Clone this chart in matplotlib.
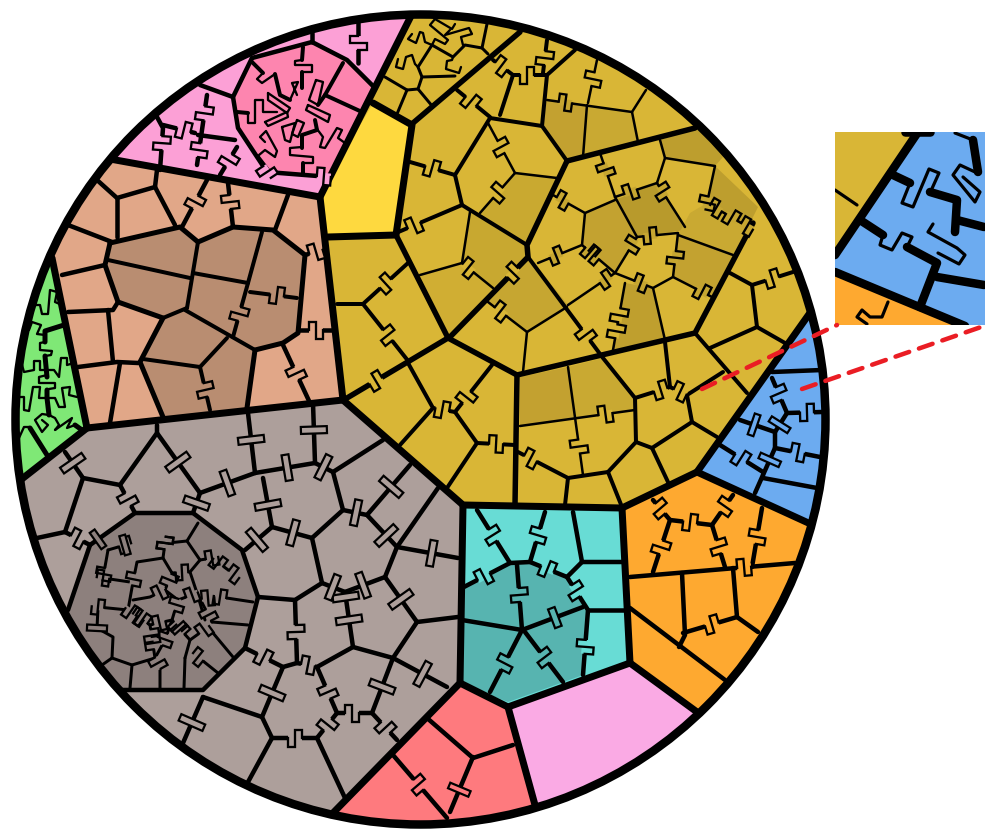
import numpy as np
import matplotlib
matplotlib.use("Agg")
import matplotlib.pyplot as plt
from matplotlib.patches import Circle, Polygon, Rectangle

GOLD = "#d9b636"
YELLOW = "#fed93f"
BROWN = "#e1a788"
BROWN_DARK = "#b98d71"
PINK = "#fca0d6"
PINK_DARK = "#fd85af"
GREEN = "#7fe876"
GREY = "#ad9f9b"
GREY_DARK = "#8d807d"
TEAL = "#68dcd5"
TEAL_DARK = "#57b4b0"
ORANGE = "#fea930"
BLUE = "#6cabf0"
PALE = "#faaae4"
RED = "#fe7a7e"

CENTER = (420.5, 419.5)
RADIUS = 405

# top level cells, outer corners run past the circle and get clipped
REGIONS = [
    (GOLD, [(410, 0), (560, 0), (900, 100), (900, 300), (697, 472), (622, 507), (463, 505), (345, 400), (320, 197), (330, 177)]),
    (BLUE, [(697, 472), (812, 305), (860, 300), (860, 550), (812, 525)]),
    (ORANGE, [(622, 507), (697, 472), (812, 525), (840, 540), (720, 730), (697, 712), (630, 663)]),
    (PALE, [(630, 663), (697, 712), (720, 730), (540, 850), (535, 805), (508, 707)]),
    (TEAL, [(460, 505), (623, 508), (630, 663), (508, 707), (460, 683)]),
    (RED, [(460, 683), (508, 707), (535, 805), (540, 850), (300, 850), (333, 813)]),
    (GREY, [(88, 429), (347, 401), (462, 505), (460, 683), (333, 813), (300, 850), (0, 850), (0, 500), (22, 480)]),
    (GREEN, [(52, 258), (87, 428), (22, 480), (0, 490), (0, 300)]),
    (BROWN, [(110, 159), (320, 197), (345, 400), (87, 428), (52, 258), (0, 220), (50, 130)]),
    (PINK, [(110, 159), (320, 197), (330, 177), (410, 16), (420, -10), (150, 40), (80, 130)]),
    (YELLOW, [(373, 103), (412, 125), (396, 235), (328, 237), (323, 197), (330, 177)]),
]

SHADES = [
    ("#c3a130", [(520, 377), (568, 367), (575, 418), (520, 426)]),
    ("#c9a932", [(568, 367), (603, 358), (635, 398), (635, 410), (575, 418)]),
    ("#c8a830", [(470, 212), (527, 245), (528, 257), (493, 288), (462, 263)]),
    ("#d0ae33", [(420, 275), (462, 263), (493, 288), (448, 338)]),
    ("#c9a930", [(515, 173), (557, 178), (527, 245), (480, 213)]),
    ("#c3a130", [(547, 100), (587, 105), (583, 157), (567, 161), (542, 126)]),
    ("#c9a932", [(587, 105), (632, 112), (638, 142), (583, 157)]),
    ("#bd9e2e", [(660, 140), (697, 128), (723, 157), (715, 166), (665, 158)]),
    ("#bd9e2e", [(715, 166), (758, 207), (748, 227), (707, 203)]),
    ("#b89a2c", [(615, 200), (657, 183), (685, 230), (637, 237)]),
    ("#c3a230", [(585, 213), (615, 200), (637, 237), (615, 273), (582, 245)]),
    ("#c3a230", [(678, 235), (733, 255), (712, 297), (673, 277)]),
    ("#bf9f2e", [(625, 283), (653, 288), (665, 340), (613, 350)]),
    ("#c9a932", [(690, 213), (707, 203), (748, 227), (733, 255), (678, 235)]),
    ("#c6a631", [(530, 258), (568, 305), (527, 332), (488, 302)]),
    (BROWN_DARK, [(110, 243), (180, 227), (198, 242), (233, 227), (273, 230), (305, 255), (298, 333), (283, 343), (255, 350), (247, 408), (163, 417), (140, 362), (163, 318), (118, 302), (105, 265)]),
    (PINK_DARK, [(252, 58), (312, 42), (347, 60), (375, 88), (330, 177), (267, 172), (238, 128), (233, 97)]),
    (TEAL_DARK, [(510, 563), (530, 562), (567, 577), (588, 610), (583, 675), (508, 702), (460, 683), (462, 588)]),
    (GREY_DARK, [(90, 545), (135, 513), (193, 513), (242, 550), (258, 597), (245, 648), (203, 690), (127, 690), (90, 690), (50, 640), (68, 610)]),
]

TOP_LINES = [
    [(412, 14), (330, 177), (320, 197), (343, 400), (463, 505), (622, 508), (697, 472), (812, 310)],
    [(110, 159), (320, 197)],
    [(52, 258), (87, 428), (343, 400)],
    [(87, 428), (18, 482)],
    [(463, 505), (460, 683), (333, 813)],
    [(460, 683), (508, 707), (535, 805)],
    [(508, 707), (630, 663), (697, 712)],
    [(622, 508), (630, 663)],
    [(697, 472), (815, 526)],
    [(373, 103), (412, 125), (396, 235), (328, 237)],
]

GOLD_THICK = [
    [(413, 123), (520, 32)],
    [(396, 235), (448, 338), (517, 375), (695, 333), (753, 223)],
    [(448, 338), (347, 398)],
    [(517, 375), (515, 505)],
    [(567, 161), (695, 128)],
    [(567, 161), (527, 245), (528, 257), (450, 337)],
]
GOLD_MID = [
    [(396, 233), (462, 205), (527, 245)],
    [(462, 205), (455, 175), (490, 118), (542, 126), (567, 161)],
    [(528, 257), (603, 358), (635, 398), (636, 442), (608, 472), (568, 478), (518, 452)],
    [(568, 478), (565, 505)],
    [(608, 472), (622, 507)],
    [(636, 442), (652, 448), (668, 482)],
    [(652, 448), (692, 422), (717, 437)],
    [(692, 422), (687, 395), (723, 372)],
    [(635, 398), (670, 387), (687, 395)],
    [(670, 387), (665, 342)],
    [(695, 333), (747, 393)],
    [(710, 348), (757, 327), (785, 343)],
    [(757, 327), (752, 285), (730, 273)],
    [(752, 285), (793, 272)],
    [(337, 304), (363, 304), (408, 263)],
    [(363, 304), (409, 362)],
    [(408, 363), (433, 408), (400, 445)],
    [(433, 408), (455, 412), (492, 365)],
    [(455, 412), (477, 443), (515, 445)],
    [(477, 443), (447, 488)],
    [(455, 175), (410, 162)],
    [(490, 117), (457, 90)],
    [(500, 115), (513, 75), (493, 60)],
    [(513, 75), (547, 75), (542, 126)],
    [(547, 75), (575, 50)],
    [(543, 73), (547, 40)],
]
GOLD_THIN = [
    [(520, 426), (635, 410)],
    [(568, 367), (583, 475)],
    [(462, 263), (470, 212)],
    [(462, 263), (493, 288)],
    [(462, 263), (420, 275)],
    [(488, 123), (515, 173), (557, 178)],
    [(515, 173), (480, 213)],
    [(547, 100), (632, 112), (646, 90)],
    [(587, 105), (583, 157)],
    [(588, 103), (597, 60)],
    [(632, 112), (638, 142)],
    [(660, 140), (665, 158), (657, 183)],
    [(665, 158), (715, 166), (707, 203), (748, 227)],
    [(615, 197), (637, 237), (615, 273)],
    [(637, 237), (678, 233), (673, 277)],
    [(657, 183), (615, 197)],
    [(657, 183), (685, 227)],
    [(600, 153), (615, 197)],
    [(615, 200), (585, 213), (553, 195)],
    [(585, 213), (582, 245), (615, 273), (568, 305)],
    [(582, 245), (538, 263)],
    [(615, 273), (653, 288), (673, 277), (712, 297)],
    [(625, 283), (613, 350)],
    [(653, 288), (665, 340)],
    [(678, 235), (733, 255)],
    [(488, 302), (527, 332), (567, 307)],
    [(527, 332), (523, 372)],
]
GOLD_TOP = [
    [(385, 77), (407, 90), (397, 114)],
    [(407, 90), (418, 89), (433, 107)],
    [(418, 89), (422, 77), (455, 76)],
    [(422, 77), (418, 67), (432, 45), (453, 57), (465, 45), (482, 48), (488, 54)],
    [(482, 48), (487, 24)],
]
GOLD_TOP_TRACES = [
    [(418, 67), (415, 64), (412, 55), (406, 57), (403, 69), (396, 67), (398, 59)],
    [(432, 45), (425, 42), (423, 33), (420, 32), (416, 43), (408, 39), (412, 34)],
    [(432, 45), (435, 39), (445, 44), (448, 40), (430, 25), (435, 19), (452, 29), (455, 24)],
    [(463, 45), (461, 37), (472, 34), (469, 28), (445, 35), (450, 30)],
    [(453, 57), (452, 60), (447, 61), (446, 69), (459, 73), (461, 67)],
]
GOLD_TABS = [
    (402, 197), (432, 168), (473, 262), (385, 283), (388, 335), (377, 383), (470, 400),
    (442, 411), (496, 445), (472, 100), (502, 65), (527, 70), (544, 58), (597, 80),
    (501, 147), (497, 192), (536, 448), (590, 445), (606, 418), (661, 391),
    (681, 390), (772, 278), (609, 330), (583, 337), (500, 312), (512, 272), (618, 315),
]
GOLD_TABS_DARK = [
    (565, 105), (605, 170), (630, 190), (592, 250), (560, 205), (557, 258), (598, 250),
    (650, 235), (665, 190), (692, 208), (712, 215), (733, 215), (678, 258), (703, 290),
    (640, 285), (628, 242), (752, 218), (608, 283),
]

BROWN_LINES = [
    [(157, 170), (155, 187), (117, 198), (97, 180)],
    [(117, 198), (117, 237)],
    [(155, 187), (175, 225)],
    [(207, 180), (182, 227)],
    [(228, 183), (233, 227)],
    [(288, 195), (275, 230)],
    [(68, 225), (112, 242)],
    [(62, 275), (105, 265)],
    [(68, 312), (113, 310), (118, 302)],
    [(108, 310), (113, 362)],
    [(78, 367), (117, 362), (138, 363)],
    [(120, 363), (110, 423)],
    [(298, 330), (333, 330)],
    [(283, 345), (310, 403)],
    [(305, 255), (322, 250)],
]
BROWN_OUTLINE = [[(110, 243), (180, 227), (198, 242), (233, 227), (273, 230), (305, 255), (298, 333), (283, 343), (255, 350), (247, 408)],
                 [(163, 417), (140, 362), (163, 318), (118, 302), (105, 265), (110, 243)]]
BROWN_INNER = [
    [(108, 260), (190, 278)],
    [(198, 242), (187, 308)],
    [(193, 273), (248, 283)],
    [(262, 232), (248, 283), (233, 337)],
    [(250, 292), (297, 298)],
    [(185, 310), (255, 350)],
    [(227, 338), (200, 367)],
    [(143, 359), (200, 367), (210, 410)],
    [(163, 318), (187, 308)],
]
BROWN_TABS = [(195, 202), (230, 202), (316, 330), (297, 373), (316, 252)]
BROWN_DARK_TABS = [(243, 315), (277, 295), (205, 390)]

PINK_LINES = [
    [(312, 33), (312, 42)],
    [(200, 85), (233, 97)],
    [(207, 95), (197, 165)],
    [(157, 117), (163, 128), (160, 170)],
    [(163, 125), (195, 133)],
    [(198, 135), (235, 140)],
    [(237, 147), (220, 175)],
    [(358, 23), (358, 63)],
    [(252, 58), (312, 42), (347, 60), (375, 88)],
    [(252, 58), (233, 97), (238, 128), (267, 172), (330, 177)],
]
PINK_INNER = [
    [(343, 63), (325, 95), (362, 112)],
    [(303, 47), (302, 60)],
    [(302, 72), (302, 88)],
    [(315, 120), (317, 130), (302, 135), (302, 148)],
    [(303, 163), (303, 173)],
    [(268, 170), (258, 157)],
    [(252, 62), (263, 73)],
    [(237, 112), (248, 113)],
    [(275, 74), (280, 95), (290, 100)],
    [(325, 95), (318, 105)],
]
PINK_TRACES = [
    [(302, 60), (295, 61), (295, 65), (312, 65), (312, 72), (302, 72)],
    [(316, 80), (323, 82), (318, 105), (309, 100), (316, 80)],
    [(308, 105), (330, 115), (328, 122), (306, 110), (308, 105)],
    [(317, 129), (323, 137), (320, 147), (325, 148), (337, 128), (342, 130), (338, 138), (345, 143)],
    [(297, 120), (304, 123), (298, 137), (292, 134), (297, 120)],
    [(302, 147), (290, 148), (290, 155), (313, 157), (313, 163), (303, 163)],
    [(259, 155), (265, 150), (275, 157), (277, 151), (266, 131), (260, 137), (265, 142)],
    [(265, 122), (287, 112), (288, 117), (268, 126), (265, 122)],
    [(282, 127), (285, 140), (290, 142), (295, 123), (282, 127)],
    [(268, 93), (290, 108), (287, 113), (268, 100), (268, 93)],
    [(263, 73), (257, 79), (262, 83), (275, 74)],
    [(290, 100), (298, 82), (292, 83), (297, 95)],
    [(248, 113), (248, 123), (255, 123), (255, 100), (263, 100), (263, 112), (277, 112)],
]
PINK_TABS = [(202, 113), (198, 150), (160, 143), (184, 129), (228, 160), (266, 176), (323, 187), (358, 43)]

GREEN_LINES = [
    [(64, 325), (45, 331), (45, 342)],
    [(45, 356), (47, 377)],
    [(47, 390), (47, 398), (49, 415)],
    [(30, 428), (47, 455)],
    [(75, 425), (82, 430)],
]
GREEN_TRACES = [
    [(35, 305), (40, 305), (42, 314), (48, 314), (50, 290), (57, 292), (55, 302), (62, 305)],
    [(29, 330), (32, 322), (41, 325), (37, 334), (45, 335)],
    [(45, 342), (40, 343), (40, 350), (52, 351), (51, 355), (45, 356)],
    [(22, 365), (24, 372), (34, 370), (34, 361), (40, 361), (40, 370), (45, 370)],
    [(45, 370), (54, 370), (59, 377), (61, 358), (67, 358), (67, 365), (74, 363)],
    [(47, 375), (39, 377), (39, 383), (55, 383), (55, 388), (49, 389)],
    [(19, 397), (24, 397), (24, 410), (29, 411), (33, 387), (40, 387), (39, 398), (47, 398)],
    [(49, 398), (55, 398), (59, 407), (65, 407), (62, 388), (70, 387), (69, 395), (77, 397)],
    [(49, 415), (42, 414), (35, 420), (42, 432), (48, 425), (42, 420)],
    [(49, 415), (55, 418), (59, 425), (55, 430), (72, 418), (67, 428), (75, 425)],
    [(19, 438), (24, 427), (29, 427), (31, 430)],
]

GREY_LINES = [
    [(157, 425), (157, 433), (120, 485), (83, 478), (65, 452)],
    [(83, 478), (65, 532), (37, 538)],
    [(65, 532), (90, 545)],
    [(120, 485), (135, 513)],
    [(157, 433), (200, 493), (255, 473), (248, 413)],
    [(313, 403), (315, 463), (255, 473)],
    [(315, 463), (333, 472), (383, 440)],
    [(263, 478), (272, 527), (312, 538)],
    [(272, 527), (245, 550)],
    [(193, 513), (200, 493)],
    [(333, 472), (343, 510), (312, 538), (322, 583), (295, 600), (258, 597)],
    [(295, 600), (297, 663)],
    [(245, 648), (283, 667), (297, 663), (317, 667), (353, 647), (393, 658), (447, 687)],
    [(283, 667), (262, 717), (272, 738), (248, 782)],
    [(203, 697), (262, 717)],
    [(203, 697), (183, 743)],
    [(272, 738), (317, 738), (345, 798)],
    [(317, 738), (337, 713), (317, 667)],
    [(337, 713), (372, 713), (393, 658)],
    [(372, 713), (397, 740)],
    [(393, 658), (417, 622), (458, 617)],
    [(417, 622), (385, 577)],
    [(353, 647), (345, 592), (385, 577), (397, 547), (458, 558)],
    [(345, 592), (322, 583)],
    [(397, 547), (438, 488)],
    [(397, 547), (367, 515), (343, 510)],
    [(367, 515), (410, 465)],
    [(90, 545), (135, 513), (193, 513), (242, 550), (258, 597), (245, 648), (203, 690), (110, 690)],
    [(90, 545), (68, 610)],
]
GREY_BARS = [
    (73, 463), (250, 440), (315, 430), (178, 462), (227, 482), (288, 473), (323, 468), (268, 505),
    (293, 533), (257, 540), (196, 503), (339, 598), (389, 485), (356, 513), (390, 532), (432, 552),
    (333, 587), (363, 585), (400, 600), (348, 620), (383, 687), (422, 675), (272, 693), (193, 723),
]
GREY_TABS = [(78, 537), (127, 500), (296, 632), (263, 658), (308, 665), (295, 738), (328, 725), (328, 692), (352, 713), (385, 728)]
GREY_THIN = [
    [(198, 523), (187, 541), (168, 543)],
    [(165, 543), (163, 558), (137, 562), (133, 582), (128, 610)],
    [(103, 578), (130, 582)],
    [(108, 550), (103, 578)],
    [(98, 607), (128, 610)],
    [(98, 608), (97, 628), (113, 637), (112, 658), (132, 665), (130, 688)],
    [(102, 665), (112, 658)],
    [(132, 665), (155, 658), (160, 667), (160, 688)],
    [(185, 658), (184, 688)],
    [(198, 657), (218, 673)],
    [(208, 627), (233, 657)],
    [(212, 622), (248, 625)],
    [(220, 597), (253, 602)],
    [(187, 541), (200, 560), (190, 572), (197, 593)],
    [(200, 560), (212, 558)],
    [(163, 558), (172, 573)],
    [(108, 550), (125, 545)],
    [(172, 573), (165, 590), (150, 597), (133, 600)],
    [(172, 573), (190, 572)],
    [(197, 593), (178, 600), (165, 590)],
    [(197, 593), (205, 620)],
    [(178, 600), (172, 620), (150, 625), (128, 610)],
    [(172, 620), (190, 640), (208, 627)],
    [(150, 625), (155, 658)],
    [(190, 640), (185, 658)],
    [(172, 620), (165, 640), (155, 658)],
    [(212, 622), (197, 593)],
    [(212, 558), (235, 575)],
    [(208, 598), (220, 597)],
]
GREY_DARK_TABS = [
    (160, 522), (123, 535), (147, 535), (97, 573), (100, 592), (82, 605), (217, 547), (215, 567),
    (235, 573), (220, 585), (208, 598), (218, 610), (192, 595), (182, 573), (165, 578), (147, 582),
    (160, 593), (177, 605), (143, 610), (127, 617), (158, 617), (188, 617), (202, 627), (132, 635),
    (155, 635), (182, 628), (140, 645), (175, 643), (202, 647), (167, 658),
]
GREY_DARK_BARS = [(130, 550), (87, 632), (102, 545)]

TEAL_LINES = [
    [(477, 510), (510, 563)],
    [(545, 512), (530, 562)],
    [(573, 512), (582, 562), (623, 562)],
    [(582, 562), (567, 577)],
    [(588, 610), (625, 610)],
    [(462, 588), (510, 563), (530, 562), (567, 577), (588, 610), (583, 675)],
    [(517, 565), (522, 630), (462, 620)],
    [(522, 630), (583, 607)],
    [(522, 630), (490, 692)],
    [(525, 632), (563, 682)],
]
TEAL_TABS = [(493, 535), (537, 535), (484, 577), (547, 570), (577, 590), (587, 647)]
TEAL_DARK_TABS = [(519, 595), (504, 663), (545, 657)]
TEAL_BARS = [(555, 618)]

ORANGE_LINES = [
    [(630, 577), (795, 563)],
    [(653, 572), (670, 520), (653, 500)],
    [(670, 520), (712, 525), (733, 495)],
    [(712, 525), (725, 567)],
    [(762, 508), (752, 567)],
    [(733, 568), (737, 617), (758, 632)],
    [(682, 573), (685, 635), (679, 647)],
    [(683, 633), (737, 617)],
    [(630, 608), (725, 680)],
]
ORANGE_TABS = [(662, 507), (723, 505), (660, 547), (690, 523), (718, 547), (757, 537), (744, 566), (712, 625)]

BLUE_LINES = [
    [(772, 372), (822, 370)],
    [(772, 378), (787, 413), (822, 412)],
    [(740, 420), (775, 432), (787, 413)],
    [(775, 432), (775, 448), (820, 457)],
    [(720, 445), (763, 472)],
    [(775, 448), (763, 475)],
    [(763, 478), (817, 488)],
    [(763, 475), (755, 493)],
]
BLUE_TABS = [(780, 393), (807, 413), (798, 452), (741, 458)]
BLUE_BARS = [(753, 428), (780, 425), (770, 460)]

RED_LINES = [
    [(427, 718), (473, 758), (513, 745)],
    [(473, 757), (450, 812)],
    [(393, 755), (447, 818)],
]
RED_TABS = [(418, 785)]
RED_BARS = [(460, 790)]

# zoomed corner at the right
INSET_BOX = (835, 132, 150, 193)
INSET_GOLD = [(835, 132), (918, 132), (835, 255)]
INSET_ORANGE = [(835, 272), (835, 325), (965, 325)]
INSET_THICK = [
    [(918, 132), (835, 255)],
    [(835, 272), (965, 326)],
    [(893, 175), (910, 183)],
    [(930, 192), (957, 200), (955, 232)],
    [(957, 220), (984, 227)],
    [(860, 220), (883, 235)],
    [(907, 247), (937, 263), (920, 307)],
    [(937, 277), (984, 285)],
    [(973, 140), (978, 172)],
    [(905, 132), (930, 132)],
]
INSET_TRACES = [
    [(835, 190), (857, 205)],
    [(910, 183), (902, 203), (913, 207), (929, 169), (939, 173), (930, 193)],
    [(933, 224), (928, 232), (957, 248), (965, 255), (959, 264), (938, 253)],
    [(883, 235), (880, 245), (892, 250), (902, 233), (912, 237), (907, 247)],
    [(975, 172), (960, 165), (953, 175), (975, 202), (980, 192), (963, 177)],
    [(955, 133), (973, 140)],
    [(888, 302), (882, 317), (870, 317), (862, 310), (857, 317), (867, 324)],
]
LEADERS = [[(702, 389), (837, 325)], [(802, 389), (984, 326)]]


def px(w):
    return w * 0.72


def draw_lines(ax, lines, width, clip, zorder=3):
    for line in lines:
        xs, ys = zip(*line)
        art, = ax.plot(xs, ys, color="black", lw=px(width), solid_capstyle="round",
                       solid_joinstyle="round", zorder=zorder)
        art.set_clip_path(clip)


def nearest_edge(x, y, lines):
    best = None
    for line in lines:
        for a, b in zip(line[:-1], line[1:]):
            a = np.array(a, float)
            b = np.array(b, float)
            t = np.clip(np.dot((x, y) - a, b - a) / np.dot(b - a, b - a), 0, 1)
            p = a + t * (b - a)
            d = np.hypot(*(p - (x, y)))
            if best is None or d < best[0]:
                best = (d, p, (b - a) / np.hypot(*(b - a)))
    return best[1], best[2]


def draw_s_tab(ax, x, y, lines, color, flip, size=1.0):
    p, u = nearest_edge(x, y, lines)
    n = np.array([-u[1], u[0]]) * flip
    def local(pts):
        return [p + size * (a * u + b * n) for a, b in pts]
    ax.add_patch(Polygon(local([(-7, -3.5), (7, -3.5), (7, 3.5), (-7, 3.5)]), fc=color, ec="none", zorder=4))
    ax.add_patch(Polygon(local([(-7, 0), (-7, 8.5), (0, 8.5), (0, 0)]), fc=color, ec="none", zorder=4))
    ax.add_patch(Polygon(local([(0, 0), (0, -8.5), (7, -8.5), (7, 0)]), fc=color, ec="none", zorder=4))
    path = np.array(local([(-7, 0), (-7, 8.5), (0, 8.5), (0, -8.5), (7, -8.5), (7, 0)]))
    ax.plot(path[:, 0], path[:, 1], color="black", lw=px(2.3), solid_joinstyle="miter", zorder=5)


def draw_bars(ax, points, lines, color, length=26.0, thick=7.0):
    for x, y in points:
        p, u = nearest_edge(x, y, lines)
        n = np.array([-u[1], u[0]]) * length / 2
        t = u * thick / 2
        ax.add_patch(Polygon([p - n - t, p + n - t, p + n + t, p - n + t], fc=color, ec="black",
                             lw=px(2.2), zorder=5))


def draw_s_tabs(ax, points, lines, color, size=1.0):
    for i, (x, y) in enumerate(points):
        draw_s_tab(ax, x, y, lines, color, 1 if i % 2 else -1, size)


fig = plt.figure(figsize=(9.97, 8.35), dpi=100)
ax = fig.add_axes([0, 0, 1, 1])
ax.set_xlim(0, 997)
ax.set_ylim(835, 0)
ax.axis("off")

clip = Circle(CENTER, RADIUS, transform=ax.transData)

for color, poly in REGIONS + SHADES:
    patch = Polygon(poly, fc=color, ec="none", zorder=1)
    ax.add_patch(patch)
    patch.set_clip_path(clip)

draw_lines(ax, TOP_LINES, 7, clip)
draw_lines(ax, GOLD_THICK, 5.5, clip)
draw_lines(ax, GOLD_MID, 4, clip)
draw_lines(ax, GOLD_THIN, 2.5, clip)
draw_lines(ax, GOLD_TOP, 3, clip)
draw_lines(ax, GOLD_TOP_TRACES, 2.3, clip)
draw_lines(ax, BROWN_LINES, 4.5, clip)
draw_lines(ax, BROWN_OUTLINE, 5, clip)
draw_lines(ax, BROWN_INNER, 4, clip)
draw_lines(ax, PINK_LINES, 4.5, clip)
draw_lines(ax, PINK_INNER, 4, clip)
draw_lines(ax, PINK_TRACES, 2.3, clip)
draw_lines(ax, GREEN_LINES, 5, clip)
draw_lines(ax, GREEN_TRACES, 2.3, clip)
draw_lines(ax, GREY_LINES, 4.5, clip)
draw_lines(ax, GREY_THIN, 3, clip)
draw_lines(ax, TEAL_LINES, 4.5, clip)
draw_lines(ax, ORANGE_LINES, 4.5, clip)
draw_lines(ax, BLUE_LINES, 4.5, clip)
draw_lines(ax, RED_LINES, 4.5, clip)

gold_all = GOLD_THICK + GOLD_MID + GOLD_THIN
draw_s_tabs(ax, GOLD_TABS, gold_all, GOLD)
draw_s_tabs(ax, GOLD_TABS_DARK, GOLD_THIN, "#c6a631", 0.95)
draw_s_tabs(ax, BROWN_TABS, BROWN_LINES, BROWN)
draw_s_tabs(ax, BROWN_DARK_TABS, BROWN_INNER, BROWN_DARK)
draw_s_tabs(ax, PINK_TABS, PINK_LINES, PINK)
draw_bars(ax, GREY_BARS, GREY_LINES, GREY)
draw_s_tabs(ax, GREY_TABS, GREY_LINES, GREY)
draw_s_tabs(ax, GREY_DARK_TABS, GREY_THIN, GREY_DARK, 0.9)
draw_bars(ax, GREY_DARK_BARS, GREY_THIN + GREY_LINES, GREY_DARK, 20, 6)
draw_s_tabs(ax, TEAL_TABS, TEAL_LINES, TEAL)
draw_s_tabs(ax, TEAL_DARK_TABS, TEAL_LINES, TEAL_DARK)
draw_bars(ax, TEAL_BARS, TEAL_LINES, TEAL_DARK, 20, 7)
draw_s_tabs(ax, ORANGE_TABS, ORANGE_LINES, ORANGE)
draw_s_tabs(ax, BLUE_TABS, BLUE_LINES, BLUE)
draw_bars(ax, BLUE_BARS, BLUE_LINES, BLUE, 22, 6)
draw_s_tabs(ax, RED_TABS, RED_LINES, RED)
draw_bars(ax, RED_BARS, RED_LINES, RED, 22, 6)

ax.add_patch(Circle(CENTER, RADIUS, fc="none", ec="black", lw=px(8.5), zorder=6))

# inset
box = Rectangle(INSET_BOX[:2], INSET_BOX[2], INSET_BOX[3], fc=BLUE, ec="none", zorder=7)
ax.add_patch(box)
for color, poly in ((GOLD, INSET_GOLD), (ORANGE, INSET_ORANGE)):
    patch = Polygon(poly, fc=color, ec="none", zorder=7)
    ax.add_patch(patch)
    patch.set_clip_path(box)
draw_lines(ax, INSET_THICK, 8.5, box, zorder=8)
draw_lines(ax, INSET_TRACES, 3.2, box, zorder=8)

for line in LEADERS:
    xs, ys = zip(*line)
    ax.plot(xs, ys, color="#ea1d24", lw=px(4.5), dashes=(3.2, 2.3), dash_capstyle="round", zorder=10)

fig.savefig("out.png", dpi=100)
